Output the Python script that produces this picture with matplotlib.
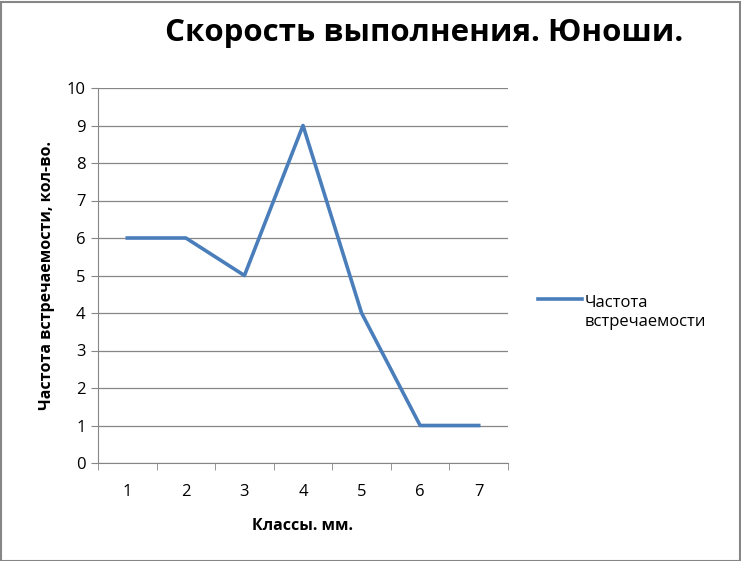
import matplotlib
matplotlib.use("Agg")
import matplotlib.pyplot as plt
from matplotlib.patches import Rectangle
from matplotlib.legend_handler import HandlerLine2D

plt.rcParams['font.family'] = ['Open Sans', 'DejaVu Sans']

classes = [1, 2, 3, 4, 5, 6, 7]
freq = [6, 6, 5, 9, 4, 1, 1]
title = "Скорость выполнения. Юноши."
series_name = "Частота\nвстречаемости"
xlabel = "Классы. мм."
ylabel = "Частота встречаемости, кол-во."


class TopLineHandler(HandlerLine2D):
    def create_artists(self, legend, orig_handle, xdescent, ydescent, width, height, fontsize, trans):
        arts = super().create_artists(legend, orig_handle, xdescent, ydescent, width, height, fontsize, trans)
        shift = fontsize * 0.85
        for a in arts:
            if hasattr(a, 'get_ydata'):
                a.set_ydata([y + shift for y in a.get_ydata()])
        return arts


W, H = 741, 561
fig = plt.figure(figsize=(W / 100, H / 100), dpi=100)
fig.patches.append(Rectangle((0.5 / W, 0.5 / H), 1 - 2 / W, 1 - 2 / H, transform=fig.transFigure,
                             fill=False, edgecolor='#868686', linewidth=1.5))

ax = fig.add_axes([98 / W, (H - 463) / H, 410 / W, 375 / H])
line, = ax.plot(classes, freq, color='#4a7ebb', linewidth=2.6)
ax.set_xlim(0.5, 7.5)
ax.set_ylim(0, 10)
ax.set_yticks(range(0, 11))
ax.set_xticks(classes)
ax.set_xticks([c - 0.5 for c in classes] + [7.5], minor=True)
ax.tick_params(axis='x', which='major', length=0, pad=15, labelsize=12)
ax.tick_params(axis='x', which='minor', length=5, color='#868686', direction='out')
ax.tick_params(axis='y', length=5, color='#868686', labelsize=12, pad=4)
ax.grid(axis='y', color='#868686', linewidth=0.9)
ax.set_axisbelow(True)
for s in ['top', 'right']:
    ax.spines[s].set_visible(False)
for s in ['left', 'bottom']:
    ax.spines[s].set_color('#868686')
ax.set_xlabel(xlabel, fontsize=11.5, fontweight='bold', labelpad=13)
ax.set_ylabel(ylabel, fontsize=11.5, fontweight='bold', labelpad=8)

fig.text(424 / W, 1 - 33 / H, title, ha='center', va='center', fontsize=22.5, fontweight='bold')

fig.legend([line], [series_name], loc='upper left', bbox_to_anchor=(530 / W, 1 - 287 / H),
           frameon=False, fontsize=12, handlelength=2.6, handletextpad=0.15, borderpad=0,
           labelspacing=0, handler_map={line: TopLineHandler()})

fig.savefig("out.png", dpi=100)
